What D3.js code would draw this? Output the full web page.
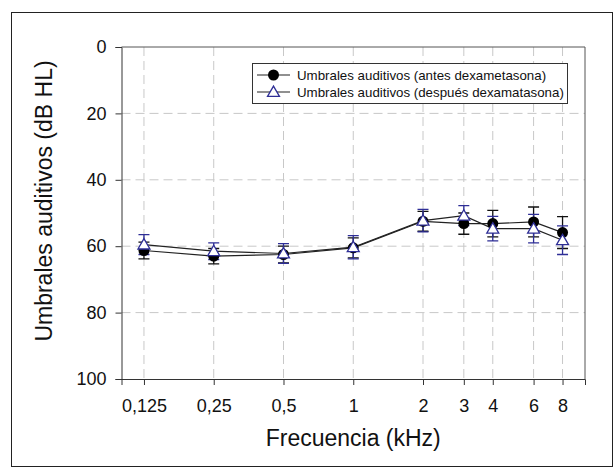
<!DOCTYPE html>
<html>
<head>
<meta charset="utf-8">
<script src="https://cdn.jsdelivr.net/npm/d3@7"></script>
<style>
  body { margin: 0; background: #fff; }
  svg { font-family: "Liberation Sans", Arial, sans-serif; }
  .grid line { stroke: #c8c8c8; stroke-dasharray: 9,5; }
  .axis path, .axis line { stroke: #333; }
  .axis text { font-size: 18px; fill: #111; }
</style>
</head>
<body>
<svg id="chart" width="614" height="468"></svg>
<script>
// frecuencias (kHz) y etiquetas
var freqs = [0.125, 0.25, 0.5, 1, 2, 3, 4, 6, 8];
var freqLabels = ["0,125", "0,25", "0,5", "1", "2", "3", "4", "6", "8"];
var yTicks = [0, 20, 40, 60, 80, 100];

// umbrales (dB HL) y error
var antes = [61.3, 63.0, 62.5, 60.5, 52.5, 53.2, 53.2, 52.7, 55.9];
var antesErr = [2.5, 2.3, 2.5, 3.0, 3.0, 3.2, 4.0, 4.5, 4.8];
var despues = [59.5, 61.5, 62.2, 60.3, 52.3, 50.8, 54.7, 54.7, 58.2];
var despuesErr = [3.0, 2.5, 3.0, 3.5, 3.4, 3.0, 3.7, 4.3, 4.3];

var seriesNames = ["Umbrales auditivos (antes dexametasona)",
                   "Umbrales auditivos (después dexamatasona)"];

var blue = "#2e2e96";

var svg = d3.select("#chart");

var plotL = 121.5, plotR = 585, plotT = 47, plotB = 379;

var x = d3.scaleLog().domain([0.1, 10]).range([plotL, plotR]);
var y = d3.scaleLinear().domain([0, 100]).range([plotT, plotB]);

// marco exterior
svg.append("rect")
    .attr("x", 11.5).attr("y", 12.5)
    .attr("width", 601).attr("height", 454)
    .attr("fill", "none").attr("stroke", "#222");

// rejilla
var grid = svg.append("g").attr("class", "grid");
grid.selectAll("line.v").data(freqs).enter().append("line")
    .attr("x1", function(d) { return x(d); })
    .attr("x2", function(d) { return x(d); })
    .attr("y1", plotT).attr("y2", plotB);
grid.selectAll("line.h").data(yTicks.slice(1, -1)).enter().append("line")
    .attr("x1", plotL).attr("x2", plotR)
    .attr("y1", function(d) { return y(d); })
    .attr("y2", function(d) { return y(d); });

// ejes
svg.append("g")
    .attr("class", "axis")
    .attr("transform", "translate(0," + plotB + ")")
    .call(d3.axisBottom(x).tickValues(freqs)
        .tickFormat(function(d, i) { return freqLabels[i]; })
        .tickSizeOuter(0).tickSize(6).tickPadding(14));

svg.append("g")
    .attr("class", "axis")
    .attr("transform", "translate(" + plotL + ",0)")
    .call(d3.axisLeft(y).tickValues(yTicks).tickSizeOuter(0).tickSize(6).tickPadding(9));

// borde superior y derecho
svg.append("path")
    .attr("d", "M" + plotL + "," + plotT + "H" + plotR + "V" + plotB)
    .attr("fill", "none").attr("stroke", "#555");

// títulos
svg.append("text")
    .attr("x", (plotL + plotR) / 2).attr("y", 446)
    .attr("text-anchor", "middle")
    .attr("font-size", 23).attr("fill", "#111")
    .text("Frecuencia (kHz)");

svg.append("text")
    .attr("transform", "translate(52," + 201 + ") rotate(-90)")
    .attr("text-anchor", "middle")
    .attr("font-size", 23).attr("fill", "#111")
    .text("Umbrales auditivos (dB HL)");

var line = d3.line()
    .x(function(d) { return x(d[0]); })
    .y(function(d) { return y(d[1]); });

function errorBars(vals, errs, color) {
    var g = svg.append("g").attr("stroke", color).attr("stroke-width", 1.3);
    freqs.forEach(function(f, i) {
        var cx = x(f), y0 = y(vals[i] - errs[i]), y1 = y(vals[i] + errs[i]);
        g.append("path")
            .attr("d", "M" + cx + "," + y0 + "V" + y1 +
                "M" + (cx - 5.5) + "," + y0 + "H" + (cx + 5.5) +
                "M" + (cx - 5.5) + "," + y1 + "H" + (cx + 5.5));
    });
}

var tri = d3.symbol().type(d3.symbolTriangle).size(62);

errorBars(antes, antesErr, "#111");
errorBars(despues, despuesErr, blue);

svg.append("path")
    .datum(d3.zip(freqs, antes))
    .attr("d", line).attr("fill", "none").attr("stroke", "#222").attr("stroke-width", 1.2);
svg.append("path")
    .datum(d3.zip(freqs, despues))
    .attr("d", line).attr("fill", "none").attr("stroke", "#222").attr("stroke-width", 1.2);

svg.append("g").selectAll("circle").data(d3.zip(freqs, antes)).enter().append("circle")
    .attr("cx", function(d) { return x(d[0]); })
    .attr("cy", function(d) { return y(d[1]); })
    .attr("r", 5.5).attr("fill", "#000");

svg.append("g").selectAll("path").data(d3.zip(freqs, despues)).enter().append("path")
    .attr("d", tri)
    .attr("transform", function(d) { return "translate(" + x(d[0]) + "," + (y(d[1]) + 1) + ")"; })
    .attr("fill", "#fff").attr("stroke", blue).attr("stroke-width", 1.3);

// leyenda
var lg = svg.append("g").attr("transform", "translate(252,63)");
lg.append("rect")
    .attr("x", 0.5).attr("y", 0.5).attr("width", 315).attr("height", 40)
    .attr("fill", "#fff").attr("stroke", "#333");

seriesNames.forEach(function(name, i) {
    var row = lg.append("g").attr("transform", "translate(0," + (12 + i * 17) + ")");
    row.append("line").attr("x1", 5).attr("x2", 38).attr("stroke", "#222").attr("stroke-width", 1.2);
    if (i === 0) {
        row.append("circle").attr("cx", 21.5).attr("r", 5.5).attr("fill", "#000");
    } else {
        row.append("path").attr("d", tri).attr("transform", "translate(21.5,1)")
            .attr("fill", "#fff").attr("stroke", blue).attr("stroke-width", 1.3);
    }
    row.append("text")
        .attr("x", 45).attr("dy", "0.35em")
        .attr("font-size", 13.3).attr("fill", "#111")
        .text(name);
});
</script>
</body>
</html>
